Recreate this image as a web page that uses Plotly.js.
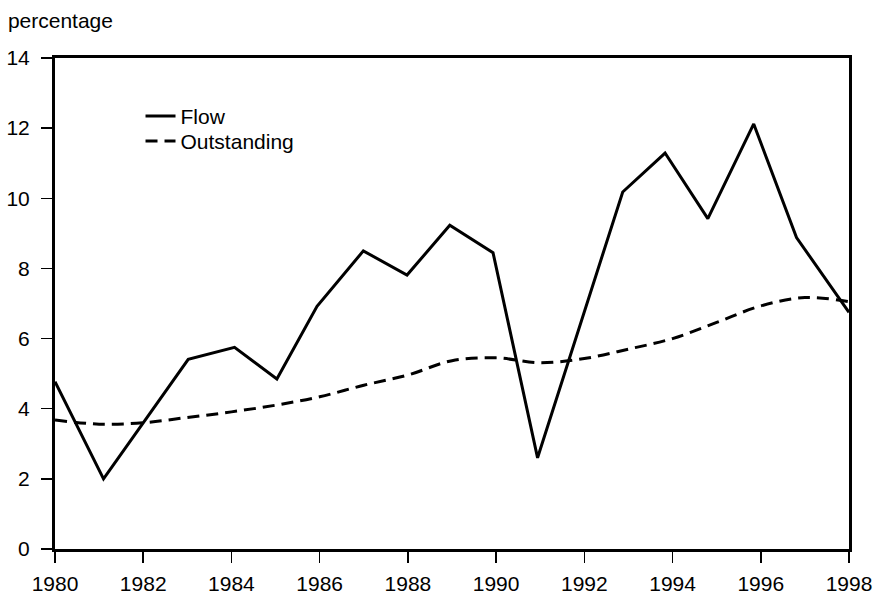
<!DOCTYPE html>
<html>
<head>
<meta charset="utf-8">
<script src="https://cdn.plot.ly/plotly-3.0.1.min.js"></script>
<style>
html,body{margin:0;padding:0;background:#fff;}
#chart{width:876px;height:597px;}
</style>
</head>
<body>
<div id="chart"></div>
<script>
// Flow series (time positions)
const flowYears = [1980.0, 1981.1, 1983.02, 1984.07, 1985.03, 1985.94, 1986.99, 1987.98, 1988.95, 1989.93, 1990.94, 1992.87, 1993.83, 1994.80, 1995.84, 1996.81, 1998.0];
const flowValues = [4.77, 2.0, 5.41, 5.75, 4.85, 6.92, 8.5, 7.81, 9.23, 8.45, 2.6, 10.18, 11.29, 9.42, 12.12, 8.88, 6.75];

// Outstanding series
const outYears = [1980, 1981, 1982, 1983, 1984, 1985, 1986, 1987, 1988, 1989, 1990, 1991, 1992, 1993, 1994, 1995, 1996, 1997, 1998];
const outValues = [3.68, 3.56, 3.6, 3.75, 3.91, 4.1, 4.34, 4.67, 4.96, 5.37, 5.45, 5.31, 5.43, 5.7, 6.0, 6.46, 6.93, 7.17, 7.05];

const xTicks = [1980, 1982, 1984, 1986, 1988, 1990, 1992, 1994, 1996, 1998];
const yTicks = [0, 2, 4, 6, 8, 10, 12, 14];

const FONT = 'Liberation Sans, Arial, Helvetica, sans-serif';
const FS = 21;

const traces = [
  {
    x: flowYears, y: flowValues, name: 'Flow', type: 'scatter', mode: 'lines',
    line: {color: '#000', width: 3}, cliponaxis: false, legend: 'legend'
  },
  {
    x: outYears, y: outValues, name: 'Outstanding', type: 'scatter', mode: 'lines',
    line: {color: '#000', width: 3, dash: '12px,7px', shape: 'spline', smoothing: 1}, cliponaxis: false, legend: 'legend2'
  }
];

const axisCommon = {
  showgrid: false, zeroline: false, showline: true, linecolor: '#000', linewidth: 3,
  mirror: true, ticks: 'outside', ticklen: 11, tickwidth: 1.5, tickcolor: '#000',
  tickfont: {family: FONT, size: FS, color: '#000'}
};

const legendCommon = {
  xanchor: 'left', yanchor: 'top', bgcolor: 'rgba(0,0,0,0)',
  font: {family: FONT, size: FS, color: '#000'}
};

const layout = {
  width: 876, height: 597,
  margin: {l: 55, r: 27, t: 58, b: 48},
  paper_bgcolor: '#fff', plot_bgcolor: '#fff',
  font: {family: FONT, color: '#000'},
  title: {
    text: 'percentage', font: {family: FONT, size: FS, color: '#000'},
    xref: 'container', yref: 'container', x: 0.009, xanchor: 'left', y: 0.966, yanchor: 'middle'
  },
  xaxis: Object.assign({}, axisCommon, {
    range: [1980, 1998], tickvals: xTicks, ticktext: xTicks.map(String), ticklabelstandoff: 3
  }),
  yaxis: Object.assign({}, axisCommon, {
    range: [0, 14], tickvals: yTicks, ticktext: yTicks.map(String), ticklabelstandoff: 7
  }),
  showlegend: true,
  legend: Object.assign({}, legendCommon, {x: 0.1077, y: 0.9227}),
  legend2: Object.assign({}, legendCommon, {x: 0.1077, y: 0.8718})
};

Plotly.newPlot('chart', traces, layout, {displayModeBar: false, staticPlot: true});
</script>
</body>
</html>
